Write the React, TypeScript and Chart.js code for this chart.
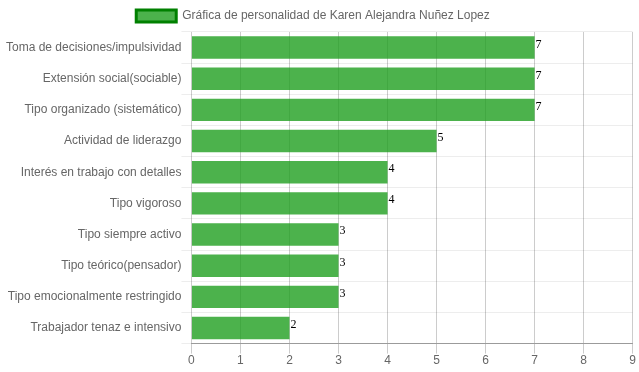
import React, { useEffect, useRef } from "react";
import { Chart, registerables } from "chart.js";

Chart.register(...registerables);

const categories = [
  "Toma de decisiones/impulsividad",
  "Extensión social(sociable)",
  "Tipo organizado (sistemático)",
  "Actividad de liderazgo",
  "Interés en trabajo con detalles",
  "Tipo vigoroso",
  "Tipo siempre activo",
  "Tipo teórico(pensador)",
  "Tipo emocionalmente restringido",
  "Trabajador tenaz e intensivo",
];
const values = [7, 7, 7, 5, 4, 4, 3, 3, 3, 2];
const seriesLabel = "Gráfica de personalidad de Karen Alejandra Nuñez Lopez";
const xMin = 0;
const xMax = 9;

const valueLabels = {
  id: "valueLabels",
  afterDatasetsDraw(chart: any) {
    const ctx = chart.ctx;
    ctx.save();
    ctx.font = "12px 'Liberation Serif', serif";
    ctx.fillStyle = "#000";
    ctx.textAlign = "left";
    ctx.textBaseline = "top";
    const meta = chart.getDatasetMeta(0);
    meta.data.forEach((bar: any, i: number) => {
      const v = chart.data.datasets[0].data[i];
      ctx.fillText(String(v), bar.x + 1, bar.y - bar.height / 2 + 2);
    });
    ctx.restore();
  },
};

const legendShift = {
  id: "legendShift",
  afterLayout(chart: any) {
    if (chart.legend) {
      chart.legend.left -= 8;
      chart.legend.right -= 8;
    }
  },
};

export default function App() {
  const ref = useRef<HTMLCanvasElement>(null);
  useEffect(() => {
    if (!ref.current) return;
    Chart.defaults.font.family = "'Liberation Sans', Arial, sans-serif";
    Chart.defaults.font.size = 12;
    Chart.defaults.color = "#666";
    const chart = new Chart(ref.current, {
      type: "bar",
      data: {
        labels: categories,
        datasets: [
          {
            label: seriesLabel,
            data: values,
            backgroundColor: "rgba(31,159,31,0.8)",
            borderColor: "green",
            borderWidth: 0,
            barPercentage: 0.9,
            categoryPercentage: 0.8,
          },
        ],
      },
      options: {
        indexAxis: "y",
        animation: false,
        responsive: true,
        maintainAspectRatio: false,
        layout: { padding: 0 },
        plugins: {
          tooltip: { enabled: false },
          legend: {
            position: "top",
            labels: {
              boxWidth: 40,
              boxHeight: 12,
              padding: 10,
              generateLabels: () => [
                {
                  text: seriesLabel,
                  fillStyle: "rgba(31,159,31,0.8)",
                  strokeStyle: "green",
                  lineWidth: 3,
                  hidden: false,
                  datasetIndex: 0,
                  fontColor: "#666",
                },
              ],
            },
          },
        },
        scales: {
          x: {
            min: xMin,
            max: xMax,
            ticks: { stepSize: 1, color: "#666", padding: 0 },
            grid: {
              color: "rgba(0,0,0,0.2)",
              tickLength: 10,
            },
            border: { color: "rgba(0,0,0,0.35)" },
          },
          y: {
            ticks: { color: "#666", padding: 0 },
            grid: {
              color: "rgba(0,0,0,0.07)",
              tickLength: 10,
              offset: true,
            },
            border: { display: false },
          },
        },
      },
      plugins: [valueLabels, legendShift],
    });
    return () => chart.destroy();
  }, []);
  return (
    <div style={{ width: 630, height: 368, position: "absolute", left: 6, top: 0 }}>
      <canvas ref={ref} />
    </div>
  );
}
